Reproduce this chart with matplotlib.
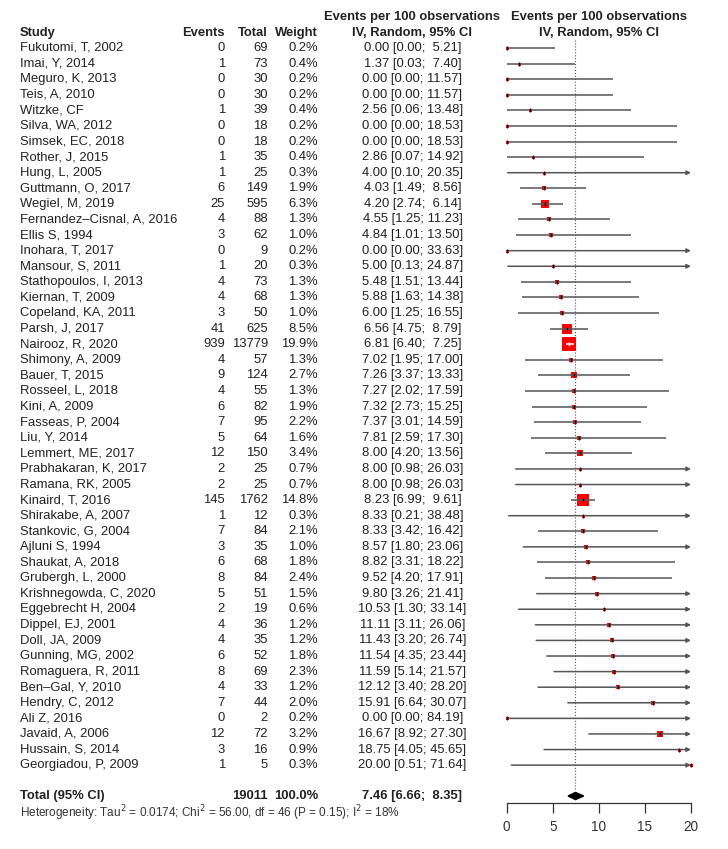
import matplotlib
matplotlib.use("Agg")
import matplotlib.pyplot as plt
from matplotlib.transforms import blended_transform_factory

plt.rcParams['font.family'] = ['Liberation Sans', 'DejaVu Sans']

# ---- data ----
studies = [
    "Fukutomi, T, 2002", "Imai, Y, 2014", "Meguro, K, 2013", "Teis, A, 2010",
    "Witzke, CF", "Silva, WA, 2012", "Simsek, EC, 2018", "Rother, J, 2015",
    "Hung, L, 2005", "Guttmann, O, 2017", "Wegiel, M, 2019",
    "Fernandez–Cisnal, A, 2016", "Ellis S, 1994", "Inohara, T, 2017",
    "Mansour, S, 2011", "Stathopoulos, I, 2013", "Kiernan, T, 2009",
    "Copeland, KA, 2011", "Parsh, J, 2017", "Nairooz, R, 2020",
    "Shimony, A, 2009", "Bauer, T, 2015", "Rosseel, L, 2018", "Kini, A, 2009",
    "Fasseas, P, 2004", "Liu, Y, 2014", "Lemmert, ME, 2017",
    "Prabhakaran, K, 2017", "Ramana, RK, 2005", "Kinaird, T, 2016",
    "Shirakabe, A, 2007", "Stankovic, G, 2004", "Ajluni S, 1994",
    "Shaukat, A, 2018", "Grubergh, L, 2000", "Krishnegowda, C, 2020",
    "Eggebrecht H, 2004", "Dippel, EJ, 2001", "Doll, JA, 2009",
    "Gunning, MG, 2002", "Romaguera, R, 2011", "Ben–Gal, Y, 2010",
    "Hendry, C, 2012", "Ali Z, 2016", "Javaid, A, 2006", "Hussain, S, 2014",
    "Georgiadou, P, 2009",
]
events = [0, 1, 0, 0, 1, 0, 0, 1, 1, 6, 25, 4, 3, 0, 1, 4, 4, 3, 41, 939,
          4, 9, 4, 6, 7, 5, 12, 2, 2, 145, 1, 7, 3, 6, 8, 5, 2, 4, 4, 6, 8,
          4, 7, 0, 12, 3, 1]
totals = [69, 73, 30, 30, 39, 18, 18, 35, 25, 149, 595, 88, 62, 9, 20, 73,
          68, 50, 625, 13779, 57, 124, 55, 82, 95, 64, 150, 25, 25, 1762, 12,
          84, 35, 68, 84, 51, 19, 36, 35, 52, 69, 33, 44, 2, 72, 16, 5]
weights = [0.2, 0.4, 0.2, 0.2, 0.4, 0.2, 0.2, 0.4, 0.3, 1.9, 6.3, 1.3, 1.0,
           0.2, 0.3, 1.3, 1.3, 1.0, 8.5, 19.9, 1.3, 2.7, 1.3, 1.9, 2.2, 1.6,
           3.4, 0.7, 0.7, 14.8, 0.3, 2.1, 1.0, 1.8, 2.4, 1.5, 0.6, 1.2, 1.2,
           1.8, 2.3, 1.2, 2.0, 0.2, 3.2, 0.9, 0.3]
est = [0.00, 1.37, 0.00, 0.00, 2.56, 0.00, 0.00, 2.86, 4.00, 4.03, 4.20,
       4.55, 4.84, 0.00, 5.00, 5.48, 5.88, 6.00, 6.56, 6.81, 7.02, 7.26,
       7.27, 7.32, 7.37, 7.81, 8.00, 8.00, 8.00, 8.23, 8.33, 8.33, 8.57,
       8.82, 9.52, 9.80, 10.53, 11.11, 11.43, 11.54, 11.59, 12.12, 15.91,
       0.00, 16.67, 18.75, 20.00]
lower = [0.00, 0.03, 0.00, 0.00, 0.06, 0.00, 0.00, 0.07, 0.10, 1.49, 2.74,
         1.25, 1.01, 0.00, 0.13, 1.51, 1.63, 1.25, 4.75, 6.40, 1.95, 3.37,
         2.02, 2.73, 3.01, 2.59, 4.20, 0.98, 0.98, 6.99, 0.21, 3.42, 1.80,
         3.31, 4.20, 3.26, 1.30, 3.11, 3.20, 4.35, 5.14, 3.40, 6.64, 0.00,
         8.92, 4.05, 0.51]
upper = [5.21, 7.40, 11.57, 11.57, 13.48, 18.53, 18.53, 14.92, 20.35, 8.56,
         6.14, 11.23, 13.50, 33.63, 24.87, 13.44, 14.38, 16.55, 8.79, 7.25,
         17.00, 13.33, 17.59, 15.25, 14.59, 17.30, 13.56, 26.03, 26.03, 9.61,
         38.48, 16.42, 23.06, 18.22, 17.91, 21.41, 33.14, 26.06, 26.74, 23.44,
         21.57, 28.20, 30.07, 84.19, 27.30, 45.65, 71.64]

pooled_total = 19011
pooled_weight = 100.0
pooled_est, pooled_lo, pooled_hi = 7.46, 6.66, 8.35
x_ticks = [0, 5, 10, 15, 20]

# ---- layout (pixels of a 728x849 canvas) ----
W, H = 728, 849
X0_PX, X20_PX = 506.7, 691.0
ROW0_PX, ROW_STEP = 48.0, 15.59
AXIS_PX = 803.0
px_per_unit = (X20_PX - X0_PX) / 20.0

fig = plt.figure(figsize=(W / 100, H / 100), dpi=100)
ax = fig.add_axes([X0_PX / W, 1 - AXIS_PX / H, (X20_PX - X0_PX) / W, AXIS_PX / H])
ax.set_xlim(0, 20)
ax.set_ylim((AXIS_PX - ROW0_PX) / ROW_STEP, -ROW0_PX / ROW_STEP)
ax.patch.set_visible(False)
for s in ("top", "left", "right"):
    ax.spines[s].set_visible(False)
ax.spines["bottom"].set_color("#333333")
ax.spines["bottom"].set_linewidth(0.9)
ax.set_yticks([])
ax.set_xticks(x_ticks)
ax.tick_params(axis="x", direction="out", length=7, width=0.9,
               colors="#333333", labelsize=9.8, pad=5)

tr = blended_transform_factory(fig.transFigure, ax.transData)
FS = 9.35
TXT = "#222222"

def fx(px):
    return px / W

# headers
y_h1, y_h2 = -1.98, -0.96
ax.text(fx(20), y_h2, "Study", transform=tr, ha="left", va="center",
        fontsize=FS, fontweight="bold", color=TXT)
ax.text(fx(225), y_h2, "Events", transform=tr, ha="right", va="center",
        fontsize=FS, fontweight="bold", color=TXT)
ax.text(fx(268), y_h2, "Total", transform=tr, ha="right", va="center",
        fontsize=FS, fontweight="bold", color=TXT)
ax.text(fx(318), y_h2, "Weight", transform=tr, ha="right", va="center",
        fontsize=FS, fontweight="bold", color=TXT)
for cx in (412.5, 599):
    ax.text(fx(cx), y_h1, "Events per 100 observations", transform=tr,
            ha="center", va="center", fontsize=FS, fontweight="bold", color=TXT)
    ax.text(fx(cx), y_h2, "IV, Random, 95% CI", transform=tr,
            ha="center", va="center", fontsize=FS, fontweight="bold", color=TXT)

# study rows
for i, name in enumerate(studies):
    ax.text(fx(20), i, name, transform=tr, ha="left", va="center",
            fontsize=FS, color=TXT)
    ax.text(fx(225), i, f"{events[i]}", transform=tr, ha="right",
            va="center", fontsize=FS, color=TXT)
    ax.text(fx(268), i, f"{totals[i]}", transform=tr, ha="right",
            va="center", fontsize=FS, color=TXT)
    ax.text(fx(318), i, f"{weights[i]:.1f}%", transform=tr, ha="right",
            va="center", fontsize=FS, color=TXT)
    ax.text(fx(412.5), i, f"{est[i]:.2f} [{lower[i]:.2f}; {upper[i]:5.2f}]",
            transform=tr, ha="center", va="center", fontsize=FS, color=TXT)

    # square, area proportional to weight
    side_px = max(3.14 * weights[i] ** 0.5, 3.0)
    side_pt = side_px * 0.72
    ax.scatter([est[i]], [i], marker="s", s=side_pt ** 2, color="#ff0000",
               linewidths=0, zorder=2, clip_on=False)

    half = side_px / 2 / px_per_unit
    inside = (est[i] - lower[i]) < half and (upper[i] - est[i]) < half
    lc = "white" if inside else "#555555"
    hi = min(upper[i], 20)
    if upper[i] > 20:
        ax.annotate("", xy=(20, i), xytext=(lower[i], i),
                    arrowprops=dict(arrowstyle="-|>", color=lc, lw=1.1,
                                    mutation_scale=6, shrinkA=0, shrinkB=0),
                    zorder=3, annotation_clip=False)
    else:
        ax.plot([lower[i], hi], [i, i], color=lc, lw=1.1, zorder=3,
                solid_capstyle="butt", clip_on=False)
    ax.plot([est[i]], [i], marker="|", ms=3.5, mew=1.0,
            color="white" if inside else "#3a0000", zorder=4, clip_on=False)

# pooled line and diamond
n = len(studies)
y_tot = n + 0.98
ax.vlines(pooled_est, -0.5, n + 0.6, colors="#555555", linestyles=":",
          linewidth=0.8, zorder=1)
dh = 3.6 / ROW_STEP
ax.fill([pooled_lo, pooled_est, pooled_hi, pooled_est],
        [y_tot, y_tot - dh, y_tot, y_tot + dh], color="black", zorder=3)

ax.text(fx(20), y_tot, "Total (95% CI)", transform=tr, ha="left",
        va="center", fontsize=FS, fontweight="bold", color=TXT)
ax.text(fx(268), y_tot, f"{pooled_total}", transform=tr, ha="right",
        va="center", fontsize=FS, fontweight="bold", color=TXT)
ax.text(fx(318), y_tot, f"{pooled_weight:.1f}%", transform=tr, ha="right",
        va="center", fontsize=FS, fontweight="bold", color=TXT)
ax.text(fx(412.5), y_tot,
        f"{pooled_est:.2f} [{pooled_lo:.2f}; {pooled_hi:5.2f}]",
        transform=tr, ha="center", va="center", fontsize=FS,
        fontweight="bold", color=TXT)
ax.text(fx(20), y_tot + 1.09,
        r"Heterogeneity: Tau$^2$ = 0.0174; Chi$^2$ = 56.00, df = 46 "
        r"(P = 0.15); I$^2$ = 18%",
        transform=tr, ha="left", va="center", fontsize=8.5, color="#333333")

fig.savefig("out.png", dpi=100)
